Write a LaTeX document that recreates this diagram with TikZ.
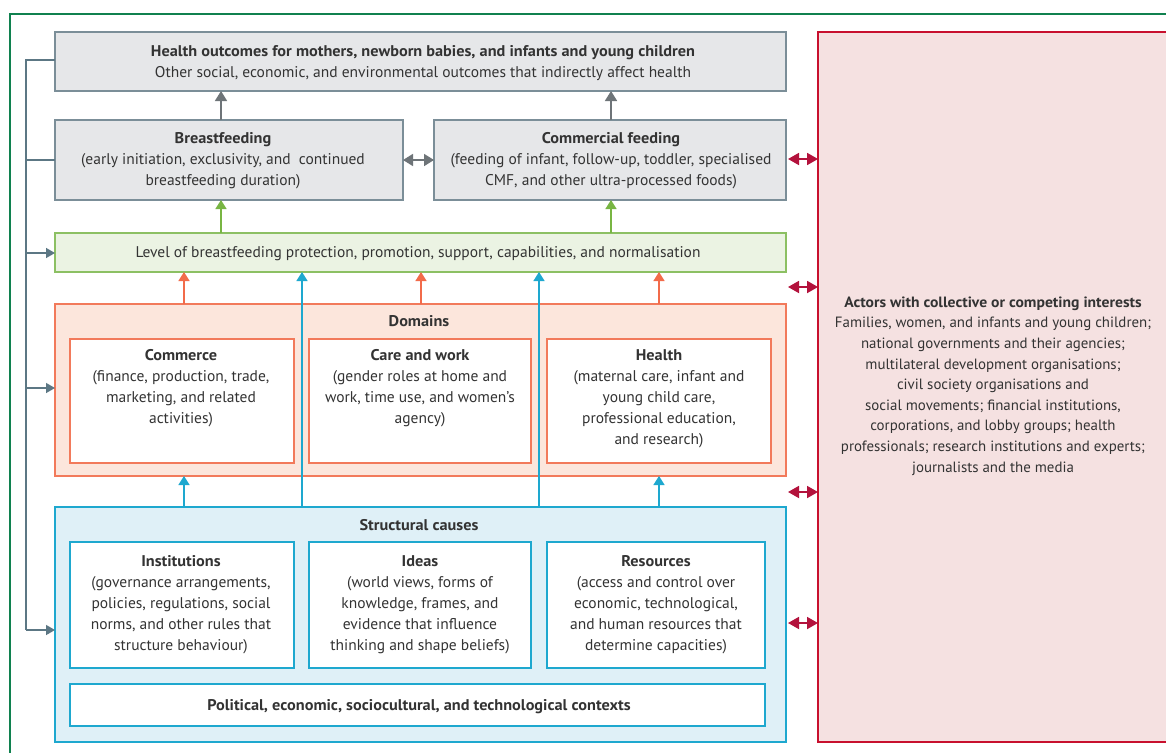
\documentclass[tikz,border=0pt]{standalone}
\usepackage{fontspec}
\setmainfont{PT Sans}[BoldFeatures={FakeStretch=1.05}]
\usetikzlibrary{arrows.meta}
\definecolor{txt}{HTML}{333333}
\definecolor{grayfill}{HTML}{E6E7E9}
\definecolor{grayline}{HTML}{7B8E98}
\definecolor{grayarrow}{HTML}{6E7478}
\definecolor{greenfill}{HTML}{EBF3E3}
\definecolor{greenline}{HTML}{8CC063}
\definecolor{greenarrow}{HTML}{78B543}
\definecolor{orgfill}{HTML}{FCE6DC}
\definecolor{orgline}{HTML}{F27A5B}
\definecolor{orgarrow}{HTML}{F26B4A}
\definecolor{bluefill}{HTML}{DFF0F7}
\definecolor{blueline}{HTML}{1EA8CF}
\definecolor{pinkfill}{HTML}{F5E1E1}
\definecolor{redline}{HTML}{C8102E}
\definecolor{redarrow}{HTML}{B3123C}
\definecolor{framegreen}{HTML}{10814F}
\definecolor{slate}{HTML}{5C7784}
\newcommand{\bx}[6]{\node[#2, minimum width={#5-#3}, minimum height={#6-#4}] (#1) at ({(#3+#5)/2},{(#4+#6)/2}) {};}
\tikzset{
  box/.style={rectangle, inner sep=0pt, outer sep=0pt},
  graybox/.style={box, fill=grayfill, draw=grayline, line width=1.6pt},
  greenbox/.style={box, fill=greenfill, draw=greenline, line width=1.4pt},
  orgbox/.style={box, fill=orgfill, draw=orgline, line width=1.4pt},
  orginner/.style={box, fill=white, draw=orgline, line width=1.4pt},
  bluebox/.style={box, fill=bluefill, draw=blueline, line width=1.4pt},
  blueinner/.style={box, fill=white, draw=blueline, line width=1.4pt},
  pinkbox/.style={box, fill=pinkfill, draw=redline, line width=1.4pt},
  txt/.style={inner sep=0pt, align=center, text=txt, font={\fontsize{15.5}{21}\selectfont}},
  ga/.style={draw=grayarrow, line width=1.6pt, -{Triangle[width=12pt,length=10pt]}},
  gna/.style={draw=greenarrow, line width=1.4pt, -{Triangle[width=11pt,length=9pt]}},
  oa/.style={draw=orgarrow, line width=1.4pt, -{Triangle[width=11pt,length=9pt]}},
  ba/.style={draw=blueline, line width=1.4pt, -{Triangle[width=11pt,length=9pt]}},
  ra/.style={draw=redarrow, line width=1.8pt, {Triangle[width=12pt,length=11pt]}-{Triangle[width=12pt,length=11pt]}},
  gda/.style={draw=grayarrow, line width=1.6pt, {Triangle[width=12pt,length=10pt]}-{Triangle[width=12pt,length=10pt]}},
  sa/.style={draw=slate, line width=1.4pt, -{Triangle[width=10pt,length=9pt]}},
  sl/.style={draw=slate, line width=1.4pt},
}
\begin{document}
\begin{tikzpicture}[x=1pt,y=-1pt]
\useasboundingbox (0,0) rectangle (1166,752);
\fill[white] (0,0) rectangle (1166,752);
% frame
\draw[framegreen, line width=1.2pt] (10,760) -- (10,14) -- (1175,14);
% boxes
\bx{actors}{pinkbox}{818}{32}{1180}{742}
\bx{outc}{graybox}{55}{32}{786}{91}
\bx{bf}{graybox}{55}{120}{403}{200}
\bx{cf}{graybox}{434}{120}{786}{200}
\bx{level}{greenbox}{55}{233}{786}{272}
\bx{dom}{orgbox}{55}{304}{786}{476}
\bx{comm}{orginner}{70}{339}{294}{463}
\bx{care}{orginner}{309}{339}{531}{463}
\bx{health}{orginner}{547}{339}{771}{463}
\bx{struct}{bluebox}{55}{507}{786}{742}
\bx{inst}{blueinner}{70}{542}{294}{668}
\bx{ideas}{blueinner}{309}{542}{531}{668}
\bx{res}{blueinner}{547}{542}{765}{668}
\bx{pol}{blueinner}{70}{684}{765}{726}
% x positions
\coordinate (xa) at (221,0);
\coordinate (xb) at (611,0);
\coordinate (xc) at (184,0);
\coordinate (xd) at (421,0);
\coordinate (xe) at (659,0);
\coordinate (xf) at (302,0);
\coordinate (xg) at (539,0);
\coordinate (xl) at (26,0);
% texts
\node[txt, anchor=north] (t-outc) at (423, 56-14.7) {\strut\textbf{Health outcomes for mothers, newborn babies, and infants and young children}\\Other social, economic, and environmental outcomes that indirectly affect health};
\node[txt, anchor=north] (t-bf) at (223, 143-14.7) {\strut\textbf{Breastfeeding}\\(early initiation, exclusivity, and \ continued\\breastfeeding duration)};
\node[txt, anchor=north] (t-cf) at (611, 143-14.7) {\strut\textbf{Commercial feeding}\\(feeding of infant, follow-up, toddler, specialised\\CMF, and other ultra-processed foods)};
\node[txt, anchor=base] (t-level) at (418, 257) {Level of breastfeeding protection, promotion, support, capabilities, and normalisation};
\node[txt, anchor=base] (t-dom) at (419, 326) {\textbf{Domains}};
\node[txt, anchor=north] (t-comm) at (181, 360-14.7) {\strut\textbf{Commerce}\\(finance, production, trade,\\marketing, and related\\activities)};
\node[txt, anchor=north] (t-care) at (420, 360-14.7) {\strut\textbf{Care and work}\\(gender roles at home and\\work, time use, and women’s\\agency)};
\node[txt, anchor=north] (t-health) at (659, 360-14.7) {\strut\textbf{Health}\\(maternal care, infant and\\young child care,\\professional education,\\and research)};
\node[txt, anchor=base] (t-struct) at (419, 530) {\textbf{Structural causes}};
\node[txt, anchor=north] (t-inst) at (181, 566-14.7) {\strut\textbf{Institutions}\\(governance arrangements,\\policies, regulations, social\\norms, and other rules that\\structure behaviour)};
\node[txt, anchor=north] (t-ideas) at (420, 566-14.7) {\strut\textbf{Ideas}\\(world views, forms of\\knowledge, frames, and\\evidence that influence\\thinking and shape beliefs)};
\node[txt, anchor=north] (t-res) at (656, 566-14.7) {\strut\textbf{Resources}\\(access and control over\\economic, technological,\\and human resources that\\determine capacities)};
\node[txt, anchor=base] (t-pol) at (419, 710) {\textbf{Political, economic, sociocultural, and technological contexts}};
\node[txt, anchor=north, font={\fontsize{14.9}{20.6}\selectfont}] (t-actors) at (993, 307-14.4) {\strut\textbf{Actors with collective or competing interests}\\Families, women, and infants and young children;\\national governments and their agencies;\\multilateral development organisations;\\civil society organisations and\\social movements; financial institutions,\\corporations, and lobby groups; health\\professionals; research institutions and experts;\\journalists and the media};
% arrows
\draw[ga] (bf.north -| xa) -- (outc.south -| xa);
\draw[ga] (cf.north -| xb) -- (outc.south -| xb);
\draw[gda] (bf.east) -- (cf.west);
\draw[gna] (level.north -| xa) -- (bf.south -| xa);
\draw[gna] (level.north -| xb) -- (cf.south -| xb);
\draw[oa] (dom.north -| xc) -- (level.south -| xc);
\draw[oa] (dom.north -| xd) -- (level.south -| xd);
\draw[oa] (dom.north -| xe) -- (level.south -| xe);
\draw[ba] (struct.north -| xf) -- (level.south -| xf);
\draw[ba] (struct.north -| xg) -- (level.south -| xg);
\draw[ba] (struct.north -| xc) -- (dom.south -| xc);
\draw[ba] (struct.north -| xe) -- (dom.south -| xe);
% red double arrows
\coordinate (r1) at (0,159);
\coordinate (r2) at (0,287);
\coordinate (r3) at (0,492);
\coordinate (r4) at (0,623);
\draw[ra] (cf.east |- r1) ++(2,0) -- (actors.west |- r1);
\draw[ra] (level.east |- r2) ++(2,0) -- (actors.west |- r2);
\draw[ra] (dom.east |- r3) ++(2,0) -- (actors.west |- r3);
\draw[ra] (struct.east |- r4) ++(2,0) -- (actors.west |- r4);
% left feedback
\coordinate (l1) at (0,60);
\coordinate (l2) at (0,160);
\coordinate (l3) at (0,253);
\coordinate (l4) at (0,388);
\coordinate (l5) at (0,630);
\draw[sl] (outc.west |- l1) -- (xl |- l1) -- (xl |- l5);
\draw[sl] (xl |- l2) -- (bf.west |- l2);
\draw[sa] (xl |- l3) -- (level.west |- l3);
\draw[sa] (xl |- l4) -- (dom.west |- l4);
\draw[sa] (xl |- l5) -- (struct.west |- l5);
\end{tikzpicture}
\end{document}
